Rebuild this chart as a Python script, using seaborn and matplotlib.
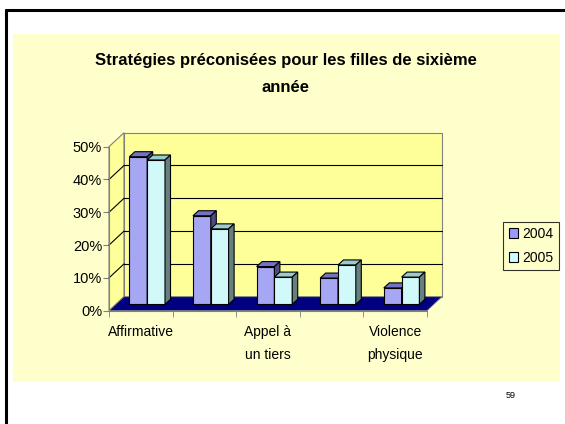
import numpy as np
import pandas as pd
import matplotlib
matplotlib.use("Agg")
import matplotlib.pyplot as plt
from matplotlib.patches import Rectangle, Polygon, Patch
from matplotlib.lines import Line2D
import seaborn as sns

# données (%)
categories = ["Affirmative", "Passive", "Appel à un tiers", "Violence verbale", "Violence physique"]
tick_labels = ["Affirmative", "", "Appel à\nun tiers", "", "Violence\nphysique"]
years = ["2004", "2005"]
val_2004 = [45, 27, 11.5, 8, 5]
val_2005 = [44, 23, 8.3, 12, 8.3]

front_colors = ["#9999FF", "#CCFFFF"]
top_colors = ["#7373C6", "#99CCCC"]
side_colors = ["#4D4D80", "#668080"]

df = pd.DataFrame({
    "categorie": categories * 2,
    "annee": [years[0]] * 5 + [years[1]] * 5,
    "valeur": val_2004 + val_2005,
})

sns.set_style("white")
plt.rcParams["font.family"] = ["Liberation Sans", "DejaVu Sans"]
plt.rcParams["text.color"] = "black"
plt.rcParams["xtick.color"] = "black"
plt.rcParams["ytick.color"] = "black"

fig = plt.figure(figsize=(5.65, 4.24), dpi=100)
W, H = 565, 424

# cadre de la diapositive
fig.patches.append(Rectangle((13 / W, 1 - 381.7 / H), (560 - 13) / W, (381.7 - 34) / H,
                             transform=fig.transFigure, facecolor="#FFFFCC",
                             edgecolor="none", zorder=-5))
fig.lines.append(Line2D([6 / W, 6 / W], [0, 1 - 10 / H], transform=fig.transFigure,
                        color="black", lw=2.2, zorder=-4))
fig.lines.append(Line2D([6 / W, 1], [1 - 10 / H, 1 - 10 / H], transform=fig.transFigure,
                        color="black", lw=2.2, zorder=-4))

ax = fig.add_axes([109 / W, 1 - 310.7 / H, 318 / W, 164 / H])
ax.set_facecolor("none")

# décalages pseudo-3D (en unités de données)
px_x = 5 / 318
px_y = 50 / 164
dx, dy = 15 * px_x, 14 * px_y          # profondeur du mur du fond
ox, oy = 6.4 * px_x, 6.4 * px_y        # position des barres
bdx, bdy = 5.5 * px_x, 5 * px_y        # profondeur des barres
x0, x1 = -0.5, len(categories) - 0.5
ymax = 50

wall = "#FFFF99"
edge = "#808080"
ax.add_patch(Polygon([(x0, 0), (x0 + dx, dy), (x0 + dx, ymax + dy), (x0, ymax)],
                     facecolor=wall, edgecolor=edge, lw=0.8, zorder=0.5, clip_on=False))
ax.add_patch(Rectangle((x0 + dx, dy), x1 - x0, ymax, facecolor=wall, edgecolor=edge,
                       lw=0.8, zorder=0.5, clip_on=False))
for v in range(10, ymax, 10):
    ax.plot([x0 + dx, x1 + dx], [v + dy, v + dy], color="black", lw=0.8, zorder=0.6, clip_on=False)
    ax.plot([x0, x0 + dx], [v, v + dy], color="black", lw=0.8, zorder=0.6, clip_on=False)
ax.add_patch(Polygon([(x0, 0), (x1, 0), (x1 + dx, dy), (x0 + dx, dy)],
                     facecolor="#000080", edgecolor=edge, lw=0.6, zorder=0.7, clip_on=False))

sns.barplot(data=df, x="categorie", y="valeur", hue="annee", palette=front_colors,
            width=0.56, edgecolor="black", linewidth=0.8, ax=ax, legend=False)

for i, cont in enumerate(ax.containers):
    z = 2 + i
    for rect in cont:
        rect.set_x(rect.get_x() + ox)
        rect.set_y(oy)
        rect.set_zorder(z)
        rect.set_clip_on(False)
        bx, bw, bh = rect.get_x(), rect.get_width(), rect.get_height()
        top = oy + bh
        ax.add_patch(Polygon([(bx, top), (bx + bw, top), (bx + bw + bdx, top + bdy), (bx + bdx, top + bdy)],
                             facecolor=top_colors[i], edgecolor="black", lw=0.8, zorder=z, clip_on=False))
        ax.add_patch(Polygon([(bx + bw, oy), (bx + bw + bdx, oy + bdy), (bx + bw + bdx, top + bdy), (bx + bw, top)],
                             facecolor=side_colors[i], edgecolor="black", lw=0.8, zorder=z, clip_on=False))

ax.set_xlim(x0, x1)
ax.set_ylim(0, ymax)
ax.set_xlabel("")
ax.set_ylabel("")

for s in ["top", "right"]:
    ax.spines[s].set_visible(False)
ax.spines["left"].set_color(edge)
ax.spines["bottom"].set_color(edge)
ax.spines["left"].set_zorder(0.8)

ax.set_yticks(range(0, ymax + 1, 10))
ax.set_yticklabels([f"{v}%" for v in range(0, ymax + 1, 10)])
ax.tick_params(axis="y", direction="out", length=4, color=edge, labelsize=10.5, pad=1, left=True)

ax.set_xticks(range(len(categories)))
ax.set_xticklabels(tick_labels, linespacing=1.9)
ax.set_xticks(np.arange(x0, x1 + 0.01, 1), minor=True)
ax.tick_params(axis="x", which="major", length=0, labelsize=10, pad=10)
ax.tick_params(axis="x", which="minor", direction="out", length=4, color=edge, bottom=True)

fig.text(286 / W, 1 - 74 / H, "Stratégies préconisées pour les filles de sixième\nannée",
         ha="center", va="center", fontsize=12, fontweight="bold", linespacing=2.05)

handles = [Patch(facecolor=front_colors[i], edgecolor="black", lw=0.8, label=years[i]) for i in range(2)]
leg = fig.legend(handles=handles, loc="center left", bbox_to_anchor=(503 / W, 1 - 246 / H),
                 frameon=True, fancybox=False, fontsize=10, handlelength=0.7, handleheight=0.7,
                 handletextpad=0.3, borderpad=0.4, labelspacing=0.7, borderaxespad=0)
leg.get_frame().set_edgecolor("black")
leg.get_frame().set_facecolor("#FFFFCC")
leg.get_frame().set_linewidth(0.8)

fig.text(511 / W, 1 - 395 / H, "59", ha="center", va="center", fontsize=6.5)

fig.savefig("out.png", dpi=100)
